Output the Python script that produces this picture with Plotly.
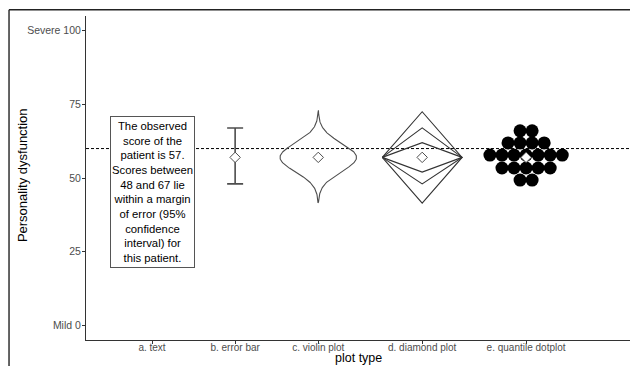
import numpy as np
import plotly.graph_objects as go

# ---- data ----
categories = ["a. text", "b. error bar", "c. violin plot", "d. diamond plot", "e. quantile dotplot"]
category_x = [1, 2, 3, 4.25, 5.5]
observed_score = 57
ci_low, ci_high = 48, 67
reference_line = 60
y_tick_values = [0, 25, 50, 75, 100]
y_tick_labels = ["Mild 0", "25", "50", "75", "Severe 100"]

# nested intervals for the diamond plot (inner -> outer)
diamond_low = [52, 48, 41.5]
diamond_high = [62, 67, 72.5]

# quantile dotplot: bin value and number of dots per bin
dot_values = [66.0, 61.9, 57.8, 53.4, 49.3]
dot_counts = [2, 4, 7, 5, 2]

# violin extent
violin_min, violin_max = 41.5, 73.0

label_text = ("The observed<br>score of the<br>patient is 57.<br>Scores between<br>"
              "48 and 67 lie<br>within a margin<br>of error (95%<br>confidence<br>"
              "interval) for<br>this patient.")

FONT = "Liberation Sans, Arial, sans-serif"
GREY = "#4d4d4d"

fig = go.Figure()

# b. error bar
fig.add_trace(go.Scatter(
    x=[category_x[1]], y=[observed_score], mode="markers",
    marker=dict(symbol="diamond", size=8, color="white", line=dict(color=GREY, width=1)),
    error_y=dict(type="data", symmetric=False,
                 array=[ci_high - observed_score], arrayminus=[observed_score - ci_low],
                 color=GREY, thickness=1.6, width=8),
    showlegend=False, hoverinfo="skip"))

# c. violin: normal density implied by the confidence interval
sd = (ci_high - ci_low) / (2 * 1.96)
yy = np.linspace(violin_min, violin_max, 200)
dens = np.exp(-0.5 * ((yy - observed_score) / sd) ** 2)
half_w = 0.46 * dens / dens.max()
vx = np.concatenate([category_x[2] - half_w, (category_x[2] + half_w)[::-1], [category_x[2] - half_w[0]]])
vy = np.concatenate([yy, yy[::-1], [yy[0]]])
fig.add_trace(go.Scatter(x=vx, y=vy, mode="lines", line=dict(color=GREY, width=1.1),
                         showlegend=False, hoverinfo="skip"))

# d. diamond plot
dhw = 0.48
cx = category_x[3]
for lo, hi in zip(diamond_low, diamond_high):
    fig.add_trace(go.Scatter(
        x=[cx - dhw, cx, cx + dhw, cx, cx - dhw],
        y=[observed_score, hi, observed_score, lo, observed_score],
        mode="lines", line=dict(color="#333333", width=1.1),
        showlegend=False, hoverinfo="skip"))

# e. quantile dotplot
dot_step = 0.145
dx, dy = [], []
for val, n in zip(dot_values, dot_counts):
    for i in range(n):
        dx.append(category_x[4] + (i - (n - 1) / 2) * dot_step)
        dy.append(val)
fig.add_trace(go.Scatter(x=dx, y=dy, mode="markers",
                         marker=dict(symbol="circle", size=13, color="black", line=dict(width=0)),
                         showlegend=False, hoverinfo="skip"))

# observed score markers on violin, diamond and dotplot
fig.add_trace(go.Scatter(
    x=category_x[2:], y=[observed_score] * 3, mode="markers",
    marker=dict(symbol="diamond", size=8, color="white", line=dict(color=GREY, width=1)),
    showlegend=False, hoverinfo="skip"))

# a. text label
fig.add_annotation(x=category_x[0], y=45.4, xref="x", yref="y", text=label_text,
                   showarrow=False, font=dict(family=FONT, size=11.3, color="black"),
                   align="center", bgcolor="white", bordercolor="#555555", borderwidth=1,
                   borderpad=1, width=81, height=148, valign="middle")

# axis titles
fig.add_annotation(x=0.5, y=-0.055, xref="paper", yref="paper", text="plot type",
                   showarrow=False, xanchor="center", yanchor="middle",
                   font=dict(family=FONT, size=12.5, color="black"))
fig.add_annotation(x=-0.117, y=0.51, xref="paper", yref="paper", text="Personality dysfunction",
                   showarrow=False, textangle=-90, xanchor="center", yanchor="middle",
                   font=dict(family=FONT, size=13, color="black"))

# dashed reference line
fig.add_shape(type="line", xref="paper", x0=0, x1=1, yref="y", y0=reference_line, y1=reference_line,
              line=dict(color="black", width=1, dash="3px,2px"), layer="below")

# outer frame (top and left edges)
fig.add_shape(type="line", xref="paper", yref="paper", x0=-0.1415, x1=1.0, y0=1.0195, y1=1.0195,
              line=dict(color="#222222", width=1.4))
fig.add_shape(type="line", xref="paper", yref="paper", x0=-0.1415, x1=-0.1415, y0=-0.09, y1=1.0195,
              line=dict(color="#222222", width=1.4))

fig.update_layout(
    width=630, height=366,
    margin=dict(l=86, r=0, t=16, b=26),
    paper_bgcolor="white", plot_bgcolor="white",
    font=dict(family=FONT),
    xaxis=dict(range=[0.206, 6.75], tickvals=category_x, ticktext=categories, automargin=False,
               showgrid=False, zeroline=False, showline=True, linecolor="#333333", linewidth=1,
               ticks="outside", ticklen=3, tickcolor="#333333", ticklabelstandoff=-5,
               tickfont=dict(size=10, color=GREY)),
    yaxis=dict(range=[-5, 105], tickvals=y_tick_values, ticktext=y_tick_labels, automargin=False,
               showgrid=False, zeroline=False, showline=True, linecolor="#333333", linewidth=1,
               ticks="outside", ticklen=3, tickcolor="#333333", ticklabelstandoff=-1,
               tickfont=dict(size=10.5, color=GREY)),
)

fig.write_html("out.html")
